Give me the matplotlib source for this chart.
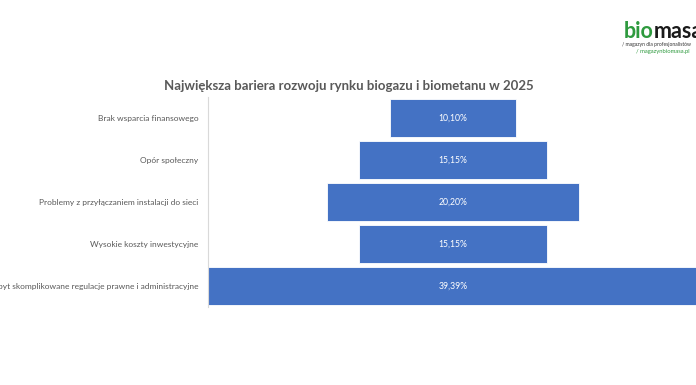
import matplotlib.pyplot as plt

# dane z wykresu
kategorie = [
    "Brak wsparcia finansowego",
    "Opór społeczny",
    "Problemy z przyłączaniem instalacji do sieci",
    "Wysokie koszty inwestycyjne",
    "Zbyt skomplikowane regulacje prawne i administracyjne",
]
wartosci = [10.10, 15.15, 20.20, 15.15, 39.39]
etykiety = ["10,10%", "15,15%", "20,20%", "15,15%", "39,39%"]

plt.rcParams['font.family'] = ['Lato', 'DejaVu Sans']
szary = "#595959"
niebieski = "#4472C4"

fig = plt.figure(figsize=(6.96, 3.85), dpi=100)
W, H = 696, 385

# obszar wykresu (w pikselach z obrazka)
x0, x1 = 208, 698
y0, y1 = 97, 307
ax = fig.add_axes([x0 / W, 1 - y1 / H, (x1 - x0) / W, (y1 - y0) / H])

polowa = max(wartosci) / 2
for i, (v, e) in enumerate(zip(wartosci, etykiety)):
    ax.barh(i, v, left=-v / 2, height=0.91, color=niebieski,
            edgecolor="white", linewidth=0.6)
    ax.text(0, i, e, ha="center", va="center", color="white", fontsize=6.2)

ax.set_xlim(-polowa, polowa)
ax.set_ylim(4.5, -0.5)
ax.set_yticks(range(len(kategorie)))
ax.set_yticklabels(kategorie, fontsize=6.0, color=szary)
ax.tick_params(axis="y", length=0, pad=7)
ax.set_xticks([])
for s in ["top", "right", "bottom"]:
    ax.spines[s].set_visible(False)
ax.spines["left"].set_color("#d9d9d9")
ax.spines["left"].set_linewidth(0.8)

fig.text(349 / W, 1 - 86 / H, "Największa bariera rozwoju rynku biogazu i biometanu w 2025",
         ha="center", va="center", fontsize=9.5, fontweight="bold", color=szary)

# logo w prawym górnym rogu
fig.text(624 / W, 1 - 38 / H, "bio", ha="left", va="baseline", fontsize=15.5,
         fontweight="bold", color="#2e9a3e")
fig.text(654 / W, 1 - 38 / H, "masa", ha="left", va="baseline", fontsize=15.5,
         fontweight="bold", color="#1a1a1a")
fig.text(622 / W, 1 - 44.5 / H, "/ magazyn dla profesjonalistów", ha="left", va="center",
         fontsize=3.6, color="#333333")
fig.text(636 / W, 1 - 51 / H, "/ magazynbiomasa.pl", ha="left", va="center",
         fontsize=4.2, color="#2e9a3e")

fig.savefig("out.png", dpi=100)
